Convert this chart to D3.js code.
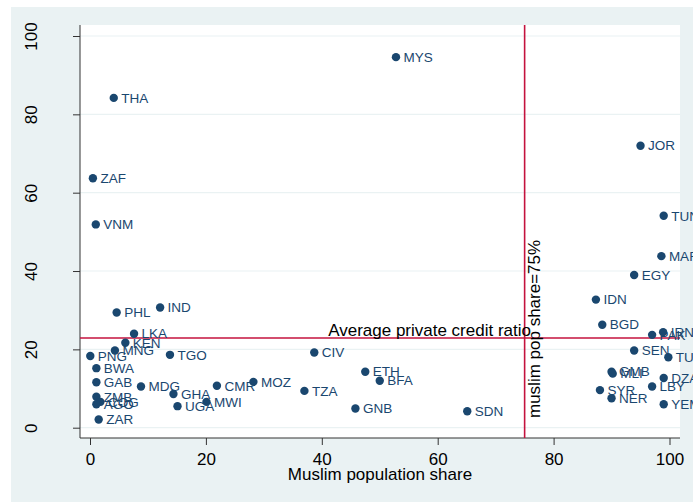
<!DOCTYPE html>
<html>
<head>
<meta charset="utf-8">
<script src="https://cdn.jsdelivr.net/npm/d3@7"></script>
<style>
  html, body { margin: 0; padding: 0; background: #ffffff; }
  svg { display: block; font-family: Arial, "Liberation Sans", Helvetica, sans-serif; }
</style>
</head>
<body>
<svg id="chart" width="693" height="502"></svg>
<script>
// ---- data ----
const countries = ["MYS","THA","ZAF","VNM","JOR","TUN","MAR","EGY","IDN","BGD","PAK","IRN","SEN","TUR","GMB","MLI","DZA","LBY","SYR","NER","YEM","SDN","GNB","TZA","MOZ","CIV","ETH","BFA","PHL","IND","LKA","KEN","MNG","PNG","TGO","BWA","GAB","MDG","CMR","GHA","UGA","MWI","ZMB","COG","AGO","ZAR"];
const muslimShare = [52.8,4.1,0.5,1.0,95.0,99.0,98.6,93.9,87.3,88.4,97.0,98.9,93.9,99.8,90.0,90.2,99.0,97.0,88.0,90.0,99.0,65.1,45.8,37.0,28.2,38.7,47.5,50.0,4.6,12.1,7.6,6.1,4.3,0.05,13.8,1.1,1.1,8.8,21.9,14.4,15.1,20.1,1.1,1.8,1.1,1.5];
const creditRatio = [94.6,84.2,63.7,51.9,72.0,54.1,43.8,39.0,32.7,26.3,23.7,24.4,19.7,18.0,14.3,13.8,12.7,10.5,9.6,7.5,6.0,4.2,4.9,9.4,11.7,19.2,14.3,12.0,29.4,30.7,24.0,21.7,19.7,18.3,18.6,15.2,11.6,10.5,10.7,8.6,5.5,6.6,7.9,6.6,6.0,2.1];
const xTicks = [0,20,40,60,80,100];
const yTicks = [0,20,40,60,80,100];
const avgCredit = 22.9;
const muslimCut = 75;
const xTitle = "Muslim population share";
const hLineLabel = "Average private credit ratio";
const vLineLabel = "muslim pop share=75%";

// ---- layout ----
const svg = d3.select("#chart");
const navy = "#1a476f";
const red = "#c4123e";
const bgOuter = "#eaf2f3";
const plotL = 80, plotR = 680, plotT = 25, plotB = 438;

const x = d3.scaleLinear().domain([0, 100]).range([90, 669.5]);
const y = d3.scaleLinear().domain([0, 100]).range([427.7, 36]);

// outer graph region
svg.append("rect").attr("x", 11).attr("y", 7).attr("width", 682).attr("height", 495).attr("fill", bgOuter);
// plot region
svg.append("rect").attr("x", plotL).attr("y", plotT).attr("width", plotR - plotL).attr("height", plotB - plotT).attr("fill", "#ffffff");

// gridlines
svg.append("g").selectAll("line").data(yTicks).join("line")
  .attr("x1", plotL).attr("x2", plotR)
  .attr("y1", d => y(d)).attr("y2", d => y(d))
  .attr("stroke", bgOuter).attr("stroke-width", 1.2);

// y axis
const yAxis = d3.axisLeft(y).tickValues(yTicks).tickSize(7).tickPadding(0).tickFormat(d3.format("d"));
const gy = svg.append("g").attr("transform", `translate(${plotL},0)`).call(yAxis);
gy.select(".domain").remove();
gy.append("line").attr("x1", 0).attr("x2", 0).attr("y1", plotT).attr("y2", plotB).attr("stroke", "#333").attr("stroke-width", 1);
gy.selectAll(".tick line").attr("stroke", "#333");
gy.selectAll(".tick text")
  .attr("font-size", 17).attr("fill", "#000")
  .attr("text-anchor", "middle")
  .attr("x", null).attr("dy", null)
  .attr("transform", "translate(-43,0) rotate(-90)")
  .attr("y", 0);

// x axis
const xAxis = d3.axisBottom(x).tickValues(xTicks).tickSize(7).tickPadding(0).tickFormat(d3.format("d"));
const gx = svg.append("g").attr("transform", `translate(0,${plotB})`).call(xAxis);
gx.select(".domain").remove();
gx.append("line").attr("x1", plotL).attr("x2", plotR).attr("y1", 0).attr("y2", 0).attr("stroke", "#333").attr("stroke-width", 1);
gx.selectAll(".tick line").attr("stroke", "#333");
gx.selectAll(".tick text")
  .attr("font-size", 17).attr("fill", "#000")
  .attr("dy", null).attr("y", 27);

// x axis title
svg.append("text").attr("x", (plotL + plotR) / 2).attr("y", 480)
  .attr("text-anchor", "middle").attr("font-size", 17).attr("fill", "#000").text(xTitle);

// reference lines
svg.append("line").attr("x1", plotL).attr("x2", plotR)
  .attr("y1", y(avgCredit)).attr("y2", y(avgCredit))
  .attr("stroke", red).attr("stroke-width", 1.6);
svg.append("line").attr("x1", x(muslimCut)).attr("x2", x(muslimCut))
  .attr("y1", plotT).attr("y2", plotB)
  .attr("stroke", red).attr("stroke-width", 1.6);

// points
const data = countries.map((c, i) => ({ c, xv: muslimShare[i], yv: creditRatio[i] }));
const pts = svg.append("g");
data.forEach(d => {
  pts.append("circle").attr("cx", x(d.xv)).attr("cy", y(d.yv)).attr("r", 4.2).attr("fill", navy);
  pts.append("text").attr("x", x(d.xv) + 7.5).attr("y", y(d.yv) + 4.8)
    .attr("font-size", 13.5).attr("fill", navy).text(d.c);
});

// line labels
svg.append("text").attr("x", 531).attr("y", y(avgCredit) - 2)
  .attr("text-anchor", "end").attr("font-size", 17).attr("fill", "#000").text(hLineLabel);
svg.append("text").attr("transform", `translate(540,418) rotate(-90)`)
  .attr("text-anchor", "start").attr("font-size", 17).attr("fill", "#000").text(vLineLabel);
</script>
</body>
</html>
